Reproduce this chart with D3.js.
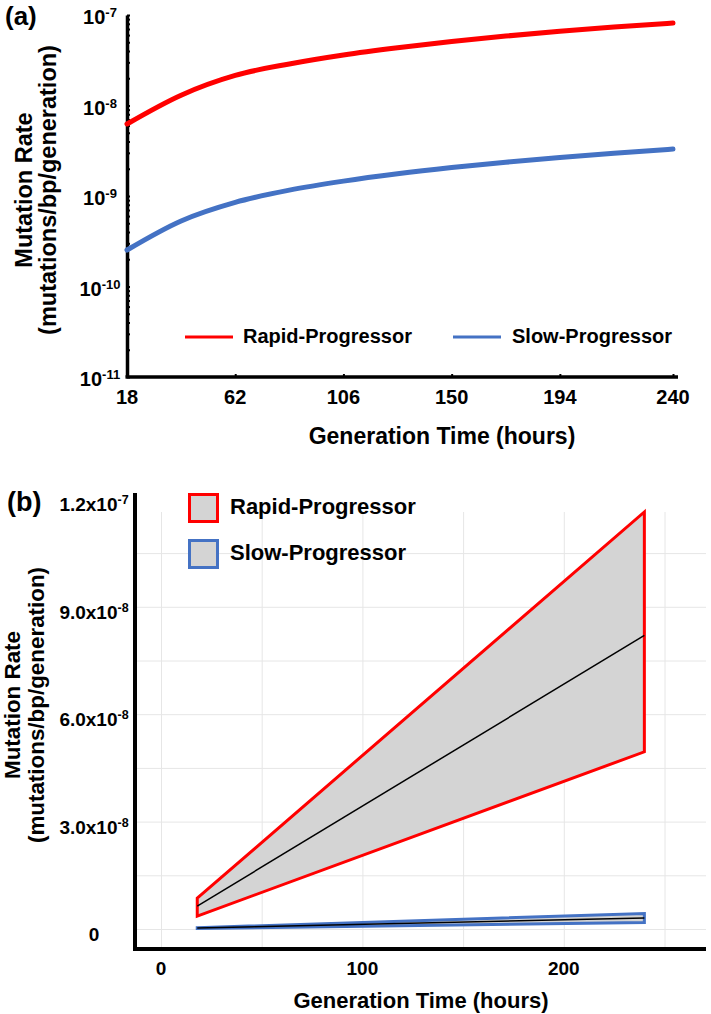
<!DOCTYPE html>
<html><head><meta charset="utf-8">
<script src="https://cdn.jsdelivr.net/npm/d3@7"></script>
<style>
body{margin:0;background:#fff}
svg{display:block}
text{font-family:"Liberation Sans",Arial,sans-serif;font-weight:bold;fill:#000}
</style>
</head><body>
<svg id="c" width="711" height="1014"></svg>
<script>
// ---------- Panel (a) data ----------
const timeA = [18, 40, 62, 84, 106, 128, 150, 172, 194, 216, 240];
const rapidA = [6.25e-9, 1.3e-8, 2.15e-8, 2.88e-8, 3.62e-8, 4.35e-8, 5.1e-8, 5.85e-8, 6.6e-8, 7.35e-8, 8.16e-8];
const slowA = [2.53e-10, 5.3e-10, 8.5e-10, 1.16e-9, 1.46e-9, 1.76e-9, 2.06e-9, 2.36e-9, 2.66e-9, 2.97e-9, 3.3e-9];
const xTicksA = [18, 62, 106, 150, 194, 240];
const yTicksA = [1e-11, 1e-10, 1e-9, 1e-8, 1e-7];
const yTickExpA = ["-11", "-10", "-9", "-8", "-7"];
const seriesNames = ["Rapid-Progressor", "Slow-Progressor"];

// ---------- Panel (b) data ----------
const timeB = [18, 240];
const rapidLow = [3.6e-9, 4.95e-8];
const rapidMid = [6.4e-9, 8.2e-8];
const rapidHigh = [8.6e-9, 1.165e-7];
const slowLow = [1.5e-10, 1.8e-9];
const slowMid = [2.5e-10, 3.1e-9];
const slowHigh = [3.5e-10, 4.35e-9];
const xTicksB = [0, 100, 200];
const xGridB = [0, 50, 100, 150, 200, 250];
const yTicksB = [0, 3e-8, 6e-8, 9e-8, 1.2e-7];
const yTickMantB = ["0", "3.0x10", "6.0x10", "9.0x10", "1.2x10"];
const yTickExpB = ["", "-8", "-8", "-8", "-7"];
const yGridB = [0, 1.5e-8, 3e-8, 4.5e-8, 6e-8, 7.5e-8, 9e-8, 1.05e-7];

const RED = "#ff0000", BLUE = "#4472c4", GREY = "#d4d4d4";
const svg = d3.select("#c");

// ================= Panel (a) =================
const xA = d3.scaleLinear().domain([18, 240]).range([127, 673]);
const yA = d3.scaleLog().domain([1e-11, 1e-7]).range([377, 15]);
const gA = svg.append("g");

// minor log ticks (inside, right of axis)
const minorA = [];
yTicksA.slice(0, -1).forEach(d => { for (let k = 1; k <= 9; k++) minorA.push(d * k); });
minorA.push(1e-7);
gA.append("g").attr("transform", "translate(127,0)")
  .call(d3.axisRight(yA).tickValues(minorA).tickSize(3).tickFormat(""))
  .call(g => g.select(".domain").remove())
  .call(g => g.selectAll("line").attr("stroke-width", 2));
// y axis
gA.append("g").attr("transform", "translate(127,0)")
  .call(d3.axisLeft(yA).tickValues(yTicksA).tickSize(0).tickFormat(""))
  .call(g => g.select(".domain").attr("stroke-width", 3.5));
// x axis
gA.append("line").attr("x1", 125.5).attr("x2", 678).attr("y1", 377).attr("y2", 377)
  .attr("stroke", "#000").attr("stroke-width", 3.5);
gA.append("g").attr("transform", "translate(0,377)")
  .call(d3.axisTop(xA).tickValues(xTicksA).tickSize(3).tickFormat(""))
  .call(g => g.select(".domain").remove())
  .call(g => g.selectAll("line").attr("stroke-width", 2));

// y tick labels
yTicksA.forEach((v, i) => {
  const t = gA.append("text").attr("x", 100).attr("y", yA(v) + 9)
    .attr("text-anchor", "middle").attr("font-size", 20);
  t.append("tspan").text("10");
  t.append("tspan").attr("font-size", 13).attr("dy", -7).text(yTickExpA[i]);
});
// x tick labels
xTicksA.forEach(v => {
  gA.append("text").attr("x", xA(v)).attr("y", 404).attr("text-anchor", "middle")
    .attr("font-size", 20).text(v);
});
// titles
gA.append("text").attr("x", 442).attr("y", 444).attr("text-anchor", "middle")
  .attr("font-size", 23).text("Generation Time (hours)");
gA.append("text").attr("transform", "translate(32,190) rotate(-90)").attr("text-anchor", "middle")
  .attr("font-size", 23.5).text("Mutation Rate");
gA.append("text").attr("transform", "translate(56,190) rotate(-90)").attr("text-anchor", "middle")
  .attr("font-size", 23.5).text("(mutations/bp/generation)");
gA.append("text").attr("x", 5).attr("y", 25).attr("font-size", 26).text("(a)");

// lines
const lineA = d3.line().x((d, i) => xA(timeA[i])).y(d => yA(d)).curve(d3.curveMonotoneX);
gA.append("path").attr("d", lineA(rapidA)).attr("fill", "none").attr("stroke", RED)
  .attr("stroke-width", 5).attr("stroke-linecap", "round");
gA.append("path").attr("d", lineA(slowA)).attr("fill", "none").attr("stroke", BLUE)
  .attr("stroke-width", 5).attr("stroke-linecap", "round");

// legend (a)
[[185, 243, RED], [453, 512, BLUE]].forEach(([lx, tx, c], i) => {
  gA.append("line").attr("x1", lx).attr("x2", lx + 48).attr("y1", 337).attr("y2", 337)
    .attr("stroke", c).attr("stroke-width", 3);
  gA.append("text").attr("x", tx).attr("y", 343).attr("font-size", 20).text(seriesNames[i]);
});

// ================= Panel (b) =================
const xB = d3.scaleLinear().domain([0, 250]).range([161, 664.5]);
const yB = d3.scaleLinear().domain([0, 1.2e-7]).range([929, 499.4]);
const gB = svg.append("g");

// grid
gB.append("g").attr("transform", "translate(0,949)")
  .call(d3.axisBottom(xB).tickValues(xGridB).tickSize(-(949 - 512)).tickFormat(""))
  .call(g => g.select(".domain").remove())
  .call(g => g.selectAll("line").attr("stroke", "#e6e6e6").attr("stroke-width", 1));
gB.append("g").attr("transform", "translate(135,0)")
  .call(d3.axisLeft(yB).tickValues(yGridB).tickSize(-(706 - 135)).tickFormat(""))
  .call(g => g.select(".domain").remove())
  .call(g => g.selectAll("line").attr("stroke", "#e6e6e6").attr("stroke-width", 1));

// bands
const areaB = d3.area().x((d, i) => xB(timeB[i])).y0(d => yB(d[0])).y1(d => yB(d[1]));
const lineB = d3.line().x((d, i) => xB(timeB[i])).y(d => yB(d));
function band(lo, mid, hi, col) {
  gB.append("path").attr("d", areaB(lo.map((l, i) => [l, hi[i]])) + "Z")
    .attr("fill", GREY).attr("stroke", col).attr("stroke-width", 3).attr("stroke-linejoin", "miter");
  gB.append("path").attr("d", lineB(mid)).attr("fill", "none").attr("stroke", "#000").attr("stroke-width", 1.5);
}
band(rapidLow, rapidMid, rapidHigh, RED);
band(slowLow, slowMid, slowHigh, BLUE);

// axes
gB.append("line").attr("x1", 135).attr("x2", 135).attr("y1", 493).attr("y2", 950.75)
  .attr("stroke", "#000").attr("stroke-width", 4);
gB.append("line").attr("x1", 133).attr("x2", 706).attr("y1", 949).attr("y2", 949)
  .attr("stroke", "#000").attr("stroke-width", 4);

// tick labels
yTicksB.forEach((v, i) => {
  const t = gB.append("text").attr("x", 94).attr("y", yB(v) + 12)
    .attr("text-anchor", "middle").attr("font-size", 19);
  t.append("tspan").text(yTickMantB[i]);
  if (yTickExpB[i]) t.append("tspan").attr("font-size", 12.5).attr("dy", -7).text(yTickExpB[i]);
});
xTicksB.forEach(v => {
  gB.append("text").attr("x", xB(v)).attr("y", 975).attr("text-anchor", "middle")
    .attr("font-size", 19).text(v);
});
gB.append("text").attr("x", 421).attr("y", 1008).attr("text-anchor", "middle")
  .attr("font-size", 22).text("Generation Time (hours)");
gB.append("text").attr("transform", "translate(20,705) rotate(-90)").attr("text-anchor", "middle")
  .attr("font-size", 22.4).text("Mutation Rate");
gB.append("text").attr("transform", "translate(44,705) rotate(-90)").attr("text-anchor", "middle")
  .attr("font-size", 22.4).text("(mutations/bp/generation)");
gB.append("text").attr("x", 7).attr("y", 511).attr("font-size", 27).text("(b)");

// legend (b)
[[493, RED], [539, BLUE]].forEach(([by, c], i) => {
  gB.append("rect").attr("x", 189.5).attr("y", by + 1.5).attr("width", 28).attr("height", 27)
    .attr("fill", GREY).attr("stroke", c).attr("stroke-width", 3);
  gB.append("text").attr("x", 230).attr("y", by + 21).attr("font-size", 22).text(seriesNames[i]);
});
</script>
</body></html>
